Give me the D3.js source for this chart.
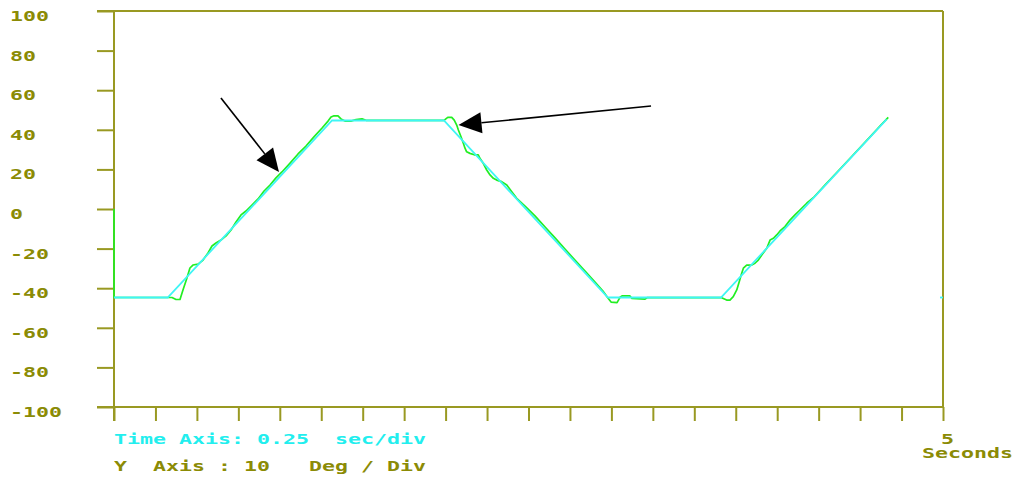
<!DOCTYPE html>
<html>
<head>
<meta charset="utf-8">
<script src="https://cdn.jsdelivr.net/npm/d3@7"></script>
<style>
  html, body { margin: 0; padding: 0; background: #ffffff; }
  svg { display: block; }
  .mono { font-family: "DejaVu Sans Mono", "Liberation Mono", monospace; font-weight: bold; font-size: 13.5px; white-space: pre; }
</style>
</head>
<body>
<svg id="chart" width="1016" height="477"></svg>
<script>
// Angle (deg) versus time (s): commanded trajectory and measured response
const commandTime  = [0, 0.324, 1.315, 1.990, 2.979, 3.661, 4.660];
const commandAngle = [-44.7, -44.7, 44.7, 44.7, -44.7, -44.7, 45.3];
// short piece of the command trace visible at the right border
const tailTime  = [4.982, 5.0];
const tailAngle = [-44.7, -44.7];

const responseTime = [
  0, 0, 0.350, 0.374, 0.398, 0.416, 0.440, 0.458, 0.476, 0.507, 0.537, 0.567, 0.591,
  0.615, 0.645, 0.676, 0.706, 0.736, 0.766, 0.796, 0.832, 0.869, 0.905, 0.941, 0.977,
  1.013, 1.062, 1.110, 1.158, 1.206, 1.255, 1.291, 1.309, 1.327, 1.351, 1.369, 1.393,
  1.429, 1.460, 1.496, 1.520, 1.990, 2.013, 2.037, 2.052, 2.067, 2.077, 2.093, 2.107,
  2.117, 2.127, 2.147, 2.177, 2.197, 2.207, 2.227, 2.248, 2.268, 2.288, 2.308, 2.338,
  2.369, 2.399, 2.429, 2.479, 2.539, 2.600, 2.660, 2.720, 2.780, 2.841, 2.901, 2.949,
  2.979, 2.998, 3.034, 3.052, 3.064, 3.112, 3.124, 3.203, 3.215, 3.665, 3.695, 3.715,
  3.735, 3.756, 3.771, 3.786, 3.796, 3.816, 3.846, 3.866, 3.886, 3.907, 3.937, 3.957,
  3.977, 3.997, 4.017, 4.047, 4.077, 4.107, 4.137, 4.178, 4.218, 4.288, 4.379, 4.469,
  4.560, 4.620, 4.670
];
const responseAngle = [
  0, -44.7, -44.7, -45.7, -45.7, -40.9, -34.8, -29.8, -28.3, -27.8, -25.8, -22.2, -18.7,
  -17.2, -15.7, -13.6, -10.6, -6.6, -3.0, -1.0, 2.0, 5.1, 9.1, 12.1, 15.7,
  18.7, 23.2, 27.8, 31.8, 36.4, 40.9, 44.4, 46.5, 47.1, 47.0, 45.5, 44.4,
  44.4, 45.2, 45.5, 44.8, 44.8, 46.3, 46.3, 44.9, 42.4, 39.9, 36.5, 33.2,
  30.7, 28.9, 28.1, 27.3, 27.3, 25.6, 23.1, 19.7, 17.2, 15.5, 14.6, 13.8,
  12.1, 8.7, 5.4, 1.5, -3.5, -9.1, -14.6, -20.2, -25.8, -31.3, -36.9, -41.4,
  -44.9, -47.0, -47.3, -44.6, -43.9, -43.9, -45.2, -45.5, -44.8, -44.8, -46.0, -46.0,
  -44.3, -40.9, -36.7, -32.5, -29.9, -28.3, -28.3, -27.4, -25.8, -23.2, -19.8, -15.7,
  -14.8, -13.1, -11.1, -8.9, -5.6, -3.0, -0.5, 2.9, 5.7, 12.1, 20.2, 28.3,
  36.4, 41.9, 46.3
];

const yTickValues = [100, 80, 60, 40, 20, 0, -20, -40, -60, -80, -100];
const xTickValues = d3.range(0, 5.0001, 0.25);

// annotation arrows: [tailTime, tailAngle, tipTime, tipAngle]
const arrows = [
  [0.645, 56.1, 0.995, 18.7],
  [3.239, 52.0, 2.078, 42.4]
];

const olive = "#999922";
const oliveText = "#8b8b05";
const cyan = "#3ff5f5";
const green = "#22ee22";

const svg = d3.select("#chart");
svg.append("rect").attr("width", 1016).attr("height", 477).attr("fill", "#ffffff");

const x = d3.scaleLinear().domain([0, 5]).range([114, 943]);
const y = d3.scaleLinear().domain([-100, 100]).range([407, 11]);

// frame: top border and right border
svg.append("line").attr("x1", 97).attr("x2", x(5)).attr("y1", y(100)).attr("y2", y(100))
  .attr("stroke", olive).attr("stroke-width", 2);
svg.append("line").attr("x1", x(5)).attr("x2", x(5)).attr("y1", y(100)).attr("y2", y(-100))
  .attr("stroke", olive).attr("stroke-width", 2);

// left axis with outward ticks
const yAxis = svg.append("g").attr("transform", `translate(${x(0)},0)`)
  .call(d3.axisLeft(y).tickValues(yTickValues).tickSize(17).tickSizeOuter(0).tickFormat(""));
// bottom axis with downward ticks
const xAxis = svg.append("g").attr("transform", `translate(0,${y(-100)})`)
  .call(d3.axisBottom(x).tickValues(xTickValues).tickSize(14).tickSizeOuter(0).tickFormat(""));
[yAxis, xAxis].forEach(g => {
  g.select(".domain").remove();
  g.selectAll(".tick line").attr("stroke", olive).attr("stroke-width", 2);
});
// the bottom axis line reaches left to the y tick ends
svg.append("line").attr("x1", 97).attr("x2", x(5)).attr("y1", y(-100)).attr("y2", y(-100))
  .attr("stroke", olive).attr("stroke-width", 2);
svg.append("line").attr("x1", x(0)).attr("x2", x(0)).attr("y1", y(100)).attr("y2", y(-100) + 14)
  .attr("stroke", olive).attr("stroke-width", 2);

// wide bitmap-style text
function wideText(str, px, py, color) {
  svg.append("text").attr("class", "mono")
    .attr("xml:space", "preserve")
    .attr("transform", `translate(${px},${py}) scale(1.6,1)`)
    .attr("fill", color).text(str);
}

yTickValues.forEach(v => wideText(String(v), 10, y(v) + 10, oliveText));

const line = d3.line().x(d => x(d[0])).y(d => y(d[1]));

svg.append("path")
  .datum(responseTime.map((t, i) => [t, responseAngle[i]]))
  .attr("d", line).attr("fill", "none").attr("stroke", green)
  .attr("stroke-width", 1.7).attr("stroke-linejoin", "round");

svg.append("path")
  .datum(commandTime.map((t, i) => [t, commandAngle[i]]))
  .attr("d", line).attr("fill", "none").attr("stroke", cyan)
  .attr("stroke-width", 1.8);
svg.append("path")
  .datum(tailTime.map((t, i) => [t, tailAngle[i]]))
  .attr("d", line).attr("fill", "none").attr("stroke", cyan)
  .attr("stroke-width", 1.8);

// arrows with filled triangular heads
arrows.forEach(a => {
  const x0 = x(a[0]), y0 = y(a[1]), x1 = x(a[2]), y1 = y(a[3]);
  const len = Math.hypot(x1 - x0, y1 - y0);
  const ux = (x1 - x0) / len, uy = (y1 - y0) / len;
  const headLen = 23, half = 10.5;
  const bx = x1 - ux * headLen, by = y1 - uy * headLen;
  svg.append("line").attr("x1", x0).attr("y1", y0).attr("x2", bx).attr("y2", by)
    .attr("stroke", "#000").attr("stroke-width", 1.6);
  svg.append("path")
    .attr("d", `M${x1},${y1}L${bx - uy * half},${by + ux * half}L${bx + uy * half},${by - ux * half}Z`)
    .attr("fill", "#000");
});

wideText("Time Axis: 0.25  sec/div", 114, 443.5, "#22eeee");
wideText("Y  Axis : 10   Deg / Div", 114, 471, oliveText);
wideText("5", 941, 443.5, oliveText);
wideText("Seconds", 922, 457.5, oliveText);
</script>
</body>
</html>
